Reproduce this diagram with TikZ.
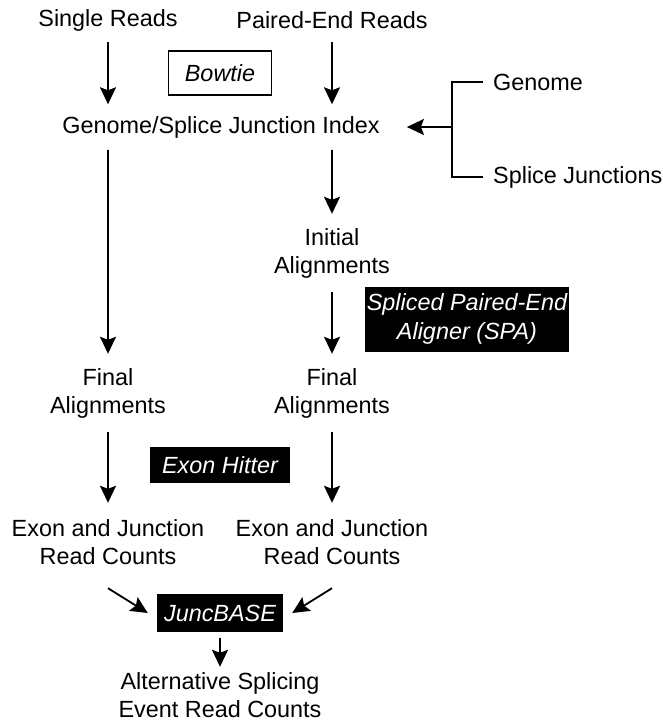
\documentclass[tikz,border=0pt]{standalone}
\usepackage{fontspec}
\setmainfont{Liberation Sans}
\usetikzlibrary{arrows.meta, positioning}
\tikzstyle{txt} = [inner sep=0pt, align=center, minimum height=44pt, font=\fontsize{23.4}{28}\selectfont]
\tikzstyle{txttwo} = [txt, minimum height=78pt]
\tikzstyle{tool} = [fill=black, text=white, inner sep=2pt, align=center, font=\fontsize{23.4}{28.5}\selectfont\itshape]
\tikzstyle{toolw} = [tool, fill=white, text=black, draw=black, line width=1.5pt]
\tikzstyle{line} = [line width=1.8pt]
\tikzstyle{arrow} = [line, -{Stealth[length=17pt, width=16pt, inset=3pt]}]

\begin{document}
\begin{tikzpicture}[x=1pt, y=-1pt]
\useasboundingbox (0,0) rectangle (663,723);
\node[txt] (single) at (108, 20) {Single Reads};
\node[txt] (paired) at (332, 20) {Paired-End Reads};
\node[toolw, minimum width=103pt, minimum height=44pt] (bowtie) at (220, 73) {Bowtie};
\node[txt, minimum height=45pt] (index) at (221, 127) {Genome/Splice Junction Index};
\node[txt, anchor=west] (genome) at (493, 82) {Genome};
\node[txt, anchor=west] (splice) at (493, 177) {Splice Junctions};
\coordinate (brk) at (452, 127);
\node[txttwo] (initial) at (332, 253) {Initial\\Alignments};
\node[tool, minimum width=204pt, minimum height=65pt] (spa) at (467, 319) {Spliced Paired-End\\Aligner (SPA)};
\node[txttwo] (finalL) at (108, 393) {Final\\Alignments};
\node[txttwo] (finalR) at (332, 393) {Final\\Alignments};
\node[tool, minimum width=140pt, minimum height=36pt] (exon) at (220, 465) {Exon Hitter};
\node[txttwo] (countsL) at (108, 542) {Exon and Junction\\Read Counts};
\node[txttwo] (countsR) at (332, 542) {Exon and Junction\\Read Counts};
\node[tool, minimum width=126pt, minimum height=38pt] (junc) at (220, 613) {JuncBASE};
\node[txttwo] (alt) at (220, 695) {Alternative Splicing\\Event Read Counts};

\draw[arrow] (single) -- (single |- index.north);
\draw[arrow] (paired) -- (paired |- index.north);
\draw[line] ([xshift=-10pt]genome.west) -| (brk) |- ([xshift=-10pt]splice.west);
\draw[arrow] (brk) -- ([xshift=27pt]index.east);
\draw[arrow] (index.south -| single) -- (finalL);
\draw[arrow] (index.south -| initial) -- (initial);
\draw[arrow] (initial) -- (finalR);
\draw[arrow] (finalL) -- (countsL);
\draw[arrow] (finalR) -- (countsR);
\draw[arrow] ([yshift=-7pt]countsL.south) -- ([xshift=-9pt]junc.west);
\draw[arrow] ([yshift=-7pt]countsR.south) -- ([xshift=9pt]junc.east);
\draw[arrow] ([yshift=-6pt]junc.south) -- ([yshift=-11pt]alt.north);
\end{tikzpicture}
\end{document}
